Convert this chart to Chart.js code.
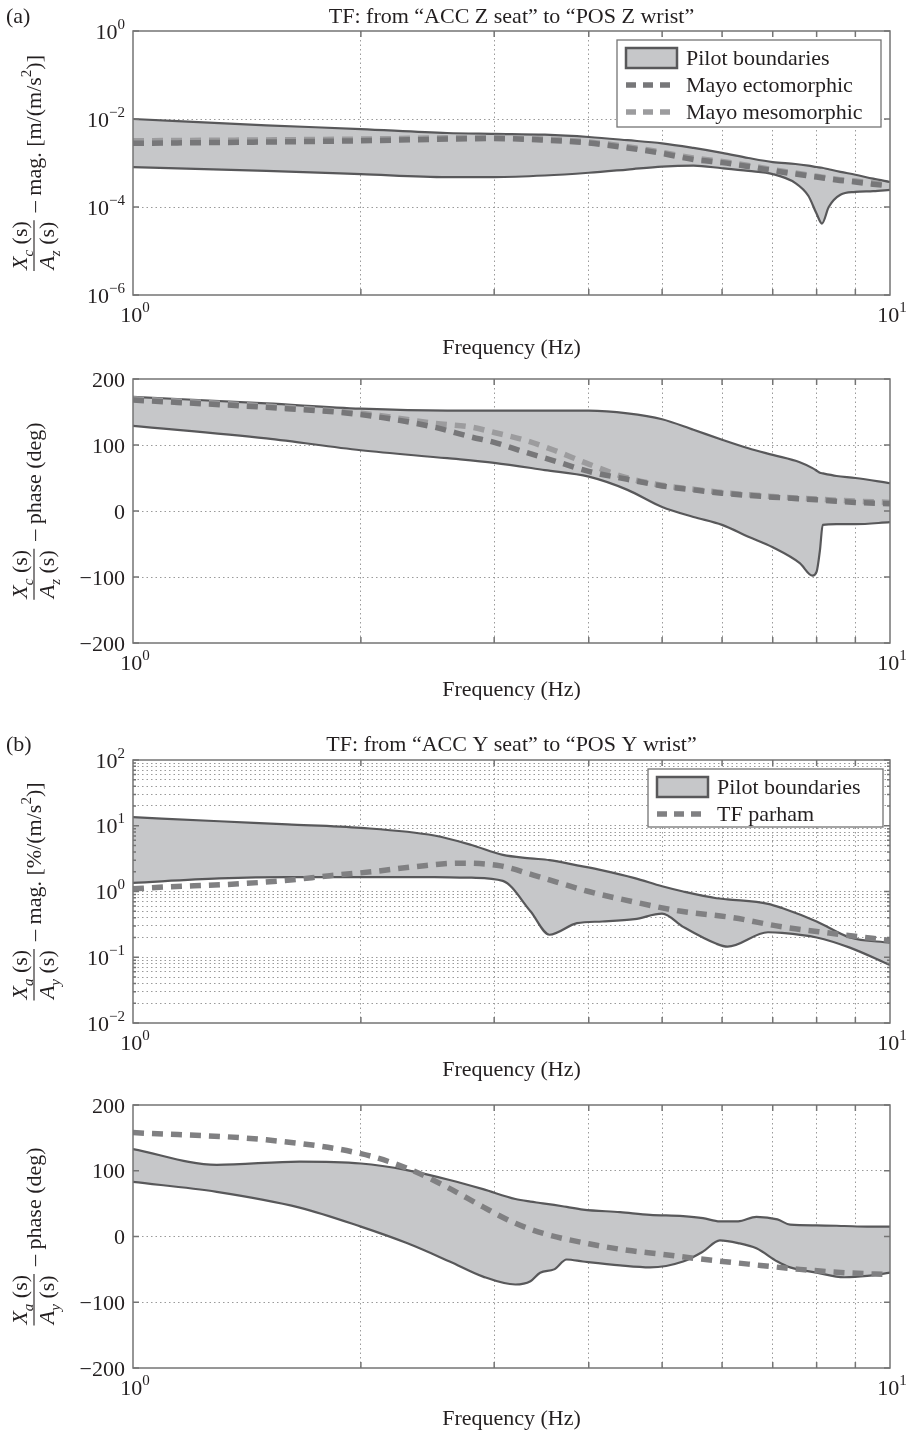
<!DOCTYPE html>
<html>
<head>
<meta charset="utf-8">
<script src="https://cdn.jsdelivr.net/npm/chart.js@4.4.1/dist/chart.umd.min.js"></script>
<style>
  body { margin: 0; background: #fff; }
  #wrap { position: relative; width: 907px; height: 1433px; }
  canvas { position: absolute; left: 0; }
</style>
</head>
<body>
<div id="wrap">
  <canvas id="magZ" width="907" height="360" style="top:0px"></canvas>
  <canvas id="phaseZ" width="907" height="340" style="top:360px"></canvas>
  <canvas id="magY" width="907" height="385" style="top:700px"></canvas>
  <canvas id="phaseY" width="907" height="348" style="top:1085px"></canvas>
</div>
<script>
// (a) vertical: seat ACC Z -> wrist POS Z, magnitude [m/(m/s^2)]
const zMagFreq  = [1, 1.5, 2, 2.6, 3, 3.5, 4, 4.5, 5, 5.5, 6, 6.5, 7, 7.5, 7.8, 8.0, 8.13, 8.3, 8.6, 9, 9.5, 10];
const zMagUpper = [1.0e-2, 7.2e-3, 5.9e-3, 4.8e-3, 4.6e-3, 4.4e-3, 3.9e-3, 3.3e-3, 2.8e-3, 2.2e-3, 1.7e-3,
                   1.3e-3, 1.05e-3, 9.5e-4, 8.7e-4, 8.1e-4, 7.8e-4, 7.2e-4, 6.3e-4, 5.4e-4, 4.4e-4, 3.7e-4];
const zMagLower = [8.1e-4, 6.6e-4, 5.6e-4, 4.8e-4, 4.8e-4, 5.2e-4, 6.0e-4, 7.1e-4, 8.3e-4, 8.7e-4, 7.6e-4,
                   6.6e-4, 5.6e-4, 3.5e-4, 1.8e-4, 7.0e-5, 4.2e-5, 1.0e-4, 1.9e-4, 2.2e-4, 2.3e-4, 2.45e-4];
const zMayoFreq = [1, 1.5, 2, 2.5, 3, 3.5, 4, 4.5, 5, 5.5, 6, 6.5, 7, 7.5, 8, 8.5, 9, 9.5, 10];
const zMagEcto  = [2.8e-3, 3.0e-3, 3.2e-3, 3.45e-3, 3.6e-3, 3.3e-3, 2.85e-3, 2.2e-3, 1.65e-3, 1.2e-3, 1.02e-3,
                   8.3e-4, 6.7e-4, 5.6e-4, 4.8e-4, 4.1e-4, 3.7e-4, 3.3e-4, 3.0e-4];
const zMagMeso  = [3.2e-3, 3.35e-3, 3.5e-3, 3.7e-3, 3.8e-3, 3.5e-3, 3.0e-3, 2.35e-3, 1.75e-3, 1.3e-3, 1.08e-3,
                   8.8e-4, 7.1e-4, 5.9e-4, 5.0e-4, 4.3e-4, 3.9e-4, 3.5e-4, 3.2e-4];

// (a) phase [deg]
const zPhFreq  = [1, 1.5, 2, 2.6, 3, 3.5, 4, 4.5, 5, 5.5, 6, 6.5, 7, 7.6, 7.9, 8.0, 8.08, 8.15, 8.5, 9, 10];
const zPhUpper = [173, 163, 155, 152, 152, 152, 152, 148, 139, 123, 108, 95, 85, 74, 65, 61, 58, 57, 53, 50, 42];
const zPhLower = [129, 110, 92, 80, 73, 62, 52, 32, 6, -9, -21, -39, -55, -79, -98, -92, -60, -21, -20, -20, -17];
const zPhMayoFreq = [1, 1.5, 2, 2.5, 2.8, 3.0, 3.3, 3.6, 4.0, 4.5, 5, 5.5, 6, 7, 8, 9, 10];
const zPhEcto  = [168, 157, 146, 127, 112, 104, 89, 76, 60, 48, 38, 32, 27, 21, 17, 13, 11];
const zPhMeso  = [170, 159, 148, 133, 127, 119, 107, 92, 71, 50, 39, 33, 28, 22, 18, 15, 13];

// (b) lateral: seat ACC Y -> wrist POS Y, magnitude [%/(m/s^2)]
const yMagFreq  = [1, 1.3, 1.6, 2, 2.5, 2.8, 3.08, 3.35, 3.55, 3.86, 4.17, 4.6, 5.0, 5.33, 5.9, 6.1, 6.9, 7.2, 8.0, 8.85, 10];
const yMagUpper = [13.5, 11.7, 10.5, 9.3, 7.1, 5.1, 3.6, 3.2, 3.0, 2.5, 2.1, 1.6, 1.2, 1.0, 0.79, 0.76, 0.65, 0.56, 0.35, 0.20, 0.166];
const yMagLower = [1.35, 1.58, 1.66, 1.66, 1.66, 1.62, 1.45, 0.50, 0.22, 0.33, 0.35, 0.38, 0.46, 0.29, 0.16, 0.145, 0.24, 0.235, 0.20, 0.14, 0.076];
const yParhamFreq = [1, 1.1, 1.35, 1.6, 1.82, 2.07, 2.37, 2.7, 3.06, 3.38, 4, 4.6, 5.3, 6.2, 7.2, 8.4, 10];
const yMagParham  = [1.10, 1.17, 1.29, 1.48, 1.74, 2.0, 2.4, 2.7, 2.45, 1.78, 1.0, 0.69, 0.50, 0.40, 0.29, 0.23, 0.18];

// (b) phase [deg]
const yPhFreq  = [1, 1.29, 1.66, 2, 2.3, 2.62, 2.9, 3.2, 3.35, 3.45, 3.6, 3.74, 3.93, 4.4, 4.82, 5.33, 5.66, 5.96, 6.3, 6.66, 7.1, 7.38, 8.0, 8.7, 9.33, 10];
const yPhUpper = [133, 109, 114, 111, 101, 86, 72, 57, 53, 51, 48, 45, 41, 37, 33, 31, 28, 23, 23, 30, 26, 18, 17, 16, 15, 15];
const yPhLower = [83, 68, 44, 15, -10, -38, -61, -73, -68, -55, -50, -35, -38, -44, -47, -38, -23, -6, -10, -18, -38, -47, -55, -62, -60, -55];
const yPhParhamFreq = [1, 1.5, 2, 2.3, 2.6, 2.9, 3.2, 3.5, 4, 4.5, 5, 5.5, 6.5, 7.6, 8.7, 10];
const yPhParham     = [158, 147, 126, 104, 75, 45, 20, 4, -11, -21, -27, -33, -42, -50, -55, -58];

// axes: grid positions and labelled ticks
const freqGrid     = [2, 3, 4, 5, 6, 7, 8, 9];
const freqLabelHz  = [1, 10];
const freqLabelExp = ['0', '1'];
const zMagGrid     = [1e-4, 1e-2];
const zMagTickVals = [1e-6, 1e-4, 1e-2, 1];
const zMagTickExp  = ['\u22126', '\u22124', '\u22122', '0'];
const yMagDecades  = [0.01, 0.1, 1, 10];
const mantissas    = [1, 2, 3, 4, 5, 6, 7, 8, 9];
const yMagTickVals = [0.01, 0.1, 1, 10, 100];
const yMagTickExp  = ['\u22122', '\u22121', '0', '1', '2'];
const phaseGrid    = [-100, 0, 100];
const phaseTicks   = [-200, -100, 0, 100, 200];

const SERIF = '"Liberation Serif", "DejaVu Serif", serif';
const FS = 22, FS_SMALL = 15;
const INK = '#231f20';
const EDGE = '#58585a';
const BAND = '#c6c7c9';
const AXIS = '#747474';
const GRID = '#9a9a9a';

const pts = (xs, ys) => xs.map((x, i) => ({ x, y: ys[i] }));

const bandLine = (xs, ys, fill) => ({
  label: 'Pilot boundaries', data: pts(xs, ys), borderColor: EDGE, borderWidth: 2.2,
  backgroundColor: BAND, fill: fill, pointRadius: 0, cubicInterpolationMode: 'monotone'
});
const dashLine = (label, xs, ys, color) => ({
  label, data: pts(xs, ys), borderColor: color, borderWidth: 5.5, borderDash: [11, 8],
  fill: false, pointRadius: 0, cubicInterpolationMode: 'monotone'
});

// rich text runs: {t, it, sub, sup}
function runFont(r) {
  return (r.it ? 'italic ' : '') + ((r.sub || r.sup) ? FS_SMALL : FS) + 'px ' + SERIF;
}
function runsWidth(ctx, runs) {
  return runs.reduce((w, r) => { ctx.font = runFont(r); return w + ctx.measureText(r.t).width; }, 0);
}
function drawRuns(ctx, runs, x, y) {
  runs.forEach(r => {
    ctx.font = runFont(r);
    ctx.fillText(r.t, x, y + (r.sub ? 6 : r.sup ? -10 : 0));
    x += ctx.measureText(r.t).width;
  });
}
const pow10 = e => [{ t: '10' }, { t: e, sup: true }];
const isDecade = v => Math.abs(Math.log10(v) - Math.round(Math.log10(v))) < 1e-6;

const bodeDeco = {
  id: 'bode',
  afterDraw(chart, args, o) {
    const { ctx, chartArea: a, scales: { x, y } } = chart;
    const midX = (a.left + a.right) / 2;
    ctx.save();
    ctx.setLineDash([]);

    // axes box and inward ticks
    ctx.strokeStyle = AXIS;
    ctx.lineWidth = 1.5;
    ctx.strokeRect(a.left, a.top, a.right - a.left, a.bottom - a.top);
    ctx.beginPath();
    x.ticks.forEach(t => {
      const px = x.getPixelForValue(t.value);
      ctx.moveTo(px, a.bottom); ctx.lineTo(px, a.bottom - 6);
      ctx.moveTo(px, a.top); ctx.lineTo(px, a.top + 6);
    });
    y.ticks.concat(o.yTicks.map(v => ({ value: v }))).forEach(t => {
      const py = y.getPixelForValue(t.value);
      const len = (o.logY && !isDecade(t.value)) ? 3 : 6;
      ctx.moveTo(a.left, py); ctx.lineTo(a.left + len, py);
      ctx.moveTo(a.right, py); ctx.lineTo(a.right - len, py);
    });
    ctx.stroke();

    ctx.fillStyle = INK;
    ctx.textBaseline = 'alphabetic';

    // y tick labels
    o.yTicks.forEach((v, i) => {
      const runs = o.yTickRuns[i];
      const w = runsWidth(ctx, runs);
      drawRuns(ctx, runs, a.left - 8 - w, y.getPixelForValue(v) + 7.5);
    });
    // x tick labels
    freqLabelHz.forEach((v, i) => {
      const runs = pow10(freqLabelExp[i]);
      const w = runsWidth(ctx, runs);
      drawRuns(ctx, runs, x.getPixelForValue(v) - w / 2 + 2, a.bottom + 27);
    });

    // x axis title, panel title and tag
    ctx.font = FS + 'px ' + SERIF;
    ctx.textAlign = 'center';
    ctx.fillText('Frequency (Hz)', midX, o.xTitleY);
    if (o.title) ctx.fillText(o.title, midX, o.titleY);
    ctx.textAlign = 'left';
    if (o.tag) ctx.fillText(o.tag, 6, o.titleY);

    // rotated y axis title: fraction followed by the quantity
    const lab = o.yTitle;
    const numW = runsWidth(ctx, lab.num), denW = runsWidth(ctx, lab.den);
    const fracW = Math.max(numW, denW) + 2;
    const tailW = runsWidth(ctx, lab.tail);
    const gap = 8;
    const total = fracW + gap + tailW;
    ctx.save();
    ctx.translate(34, (a.top + a.bottom) / 2);
    ctx.rotate(-Math.PI / 2);
    const x0 = -total / 2;
    ctx.strokeStyle = INK;
    ctx.lineWidth = 1.1;
    ctx.beginPath(); ctx.moveTo(x0, 0); ctx.lineTo(x0 + fracW, 0); ctx.stroke();
    drawRuns(ctx, lab.num, x0 + (fracW - numW) / 2, -7);
    drawRuns(ctx, lab.den, x0 + (fracW - denW) / 2, 20);
    drawRuns(ctx, lab.tail, x0 + fracW + gap, 7);
    ctx.restore();

    // legend box
    if (o.legend) {
      const L = o.legend, ds = chart.data.datasets;
      ctx.fillStyle = '#fff';
      ctx.fillRect(L.left, L.top, L.width, L.height);
      ctx.strokeStyle = AXIS;
      ctx.lineWidth = 1.3;
      ctx.strokeRect(L.left, L.top, L.width, L.height);
      L.items.forEach((idx, k) => {
        const d = ds[idx];
        const cy = L.top + 18 + k * 27;
        const px = L.left + 9;
        if (d.fill) {
          ctx.fillStyle = d.backgroundColor;
          ctx.fillRect(px, cy - 10, 51, 20);
          ctx.strokeStyle = d.borderColor;
          ctx.lineWidth = 2.5;
          ctx.strokeRect(px, cy - 10, 51, 20);
        } else {
          ctx.strokeStyle = d.borderColor;
          ctx.lineWidth = d.borderWidth;
          ctx.setLineDash([10, 7]);
          ctx.beginPath(); ctx.moveTo(px, cy); ctx.lineTo(px + 51, cy); ctx.stroke();
          ctx.setLineDash([]);
        }
        ctx.fillStyle = INK;
        ctx.font = FS + 'px ' + SERIF;
        ctx.fillText(d.label, L.left + 69, cy + 7);
      });
    }
    ctx.restore();
  }
};

function makePanel(id, datasets, yScale, padTop, padBottom, deco) {
  return new Chart(document.getElementById(id), {
    type: 'line',
    data: { datasets },
    options: {
      responsive: false,
      animation: false,
      events: [],
      layout: { padding: { left: 133, right: 17, top: padTop, bottom: padBottom } },
      plugins: {
        legend: { display: false },
        tooltip: { enabled: false },
        filler: { drawTime: 'beforeDatasetsDraw' },
        bode: deco
      },
      scales: {
        x: {
          type: 'logarithmic', min: 1, max: 10,
          afterBuildTicks: s => { s.ticks = freqGrid.map(v => ({ value: v })); },
          ticks: { display: false },
          grid: { color: GRID, lineWidth: 1, drawTicks: false },
          border: { display: false, dash: [1.5, 3] }
        },
        y: Object.assign({
          ticks: { display: false },
          grid: { color: GRID, lineWidth: 1, drawTicks: false },
          border: { display: false, dash: [1.5, 3] }
        }, yScale)
      }
    },
    plugins: [bodeDeco]
  });
}

const logAxis = (min, max, grid) => ({
  type: 'logarithmic', min, max,
  afterBuildTicks: s => { s.ticks = grid.map(v => ({ value: v })); }
});
const phaseAxis = {
  type: 'linear', min: -200, max: 200,
  afterBuildTicks: s => { s.ticks = phaseGrid.map(v => ({ value: v })); }
};
const phaseRuns = phaseTicks.map(v => [{ t: v < 0 ? '\u2212' + (-v) : String(v) }]);

const fracZ = {
  num: [{ t: 'X', it: true }, { t: 'c', it: true, sub: true }, { t: ' (s)' }],
  den: [{ t: 'A', it: true }, { t: 'z', it: true, sub: true }, { t: ' (s)' }]
};
const fracY = {
  num: [{ t: 'X', it: true }, { t: 'a', it: true, sub: true }, { t: ' (s)' }],
  den: [{ t: 'A', it: true }, { t: 'y', it: true, sub: true }, { t: ' (s)' }]
};

// (a) magnitude
makePanel('magZ', [
  dashLine('Mayo ectomorphic', zMayoFreq, zMagEcto, '#777779'),
  dashLine('Mayo mesomorphic', zMayoFreq, zMagMeso, '#9c9c9e'),
  bandLine(zMagFreq, zMagUpper, '+1'),
  bandLine(zMagFreq, zMagLower, false)
], logAxis(1e-6, 1, zMagGrid), 31, 65, {
  tag: '(a)', title: 'TF: from \u201cACC Z seat\u201d to \u201cPOS Z wrist\u201d', titleY: 23, xTitleY: 354,
  yTicks: zMagTickVals, yTickRuns: zMagTickExp.map(pow10), logY: true,
  yTitle: { num: fracZ.num, den: fracZ.den, tail: [{ t: '\u2013 mag. [m/(m/s' }, { t: '2', sup: true }, { t: ')]' }] },
  legend: { left: 617, top: 40, width: 264, height: 87, items: [2, 0, 1] }
});

// (a) phase
makePanel('phaseZ', [
  dashLine('Mayo ectomorphic', zPhMayoFreq, zPhEcto, '#777779'),
  dashLine('Mayo mesomorphic', zPhMayoFreq, zPhMeso, '#9c9c9e'),
  bandLine(zPhFreq, zPhUpper, '+1'),
  bandLine(zPhFreq, zPhLower, false)
], phaseAxis, 19, 57, {
  xTitleY: 336, yTicks: phaseTicks, yTickRuns: phaseRuns,
  yTitle: { num: fracZ.num, den: fracZ.den, tail: [{ t: '\u2013 phase (deg)' }] }
});

// (b) magnitude
makePanel('magY', [
  dashLine('TF parham', yParhamFreq, yMagParham, '#808082'),
  bandLine(yMagFreq, yMagUpper, '+1'),
  bandLine(yMagFreq, yMagLower, false)
], logAxis(0.01, 100, yMagDecades.flatMap(d => mantissas.map(m => m * d)).filter(v => v > 0.011 && v < 99)), 60, 62, {
  tag: '(b)', title: 'TF: from \u201cACC Y seat\u201d to \u201cPOS Y wrist\u201d', titleY: 51, xTitleY: 376,
  yTicks: yMagTickVals, yTickRuns: yMagTickExp.map(pow10), logY: true,
  yTitle: { num: fracY.num, den: fracY.den, tail: [{ t: '\u2013 mag. [%/(m/s' }, { t: '2', sup: true }, { t: ')]' }] },
  legend: { left: 648, top: 69, width: 235, height: 58, items: [1, 0] }
});

// (b) phase
makePanel('phaseY', [
  dashLine('TF parham', yPhParhamFreq, yPhParham, '#808082'),
  bandLine(yPhFreq, yPhUpper, '+1'),
  bandLine(yPhFreq, yPhLower, false)
], phaseAxis, 20, 65, {
  xTitleY: 340, yTicks: phaseTicks, yTickRuns: phaseRuns,
  yTitle: { num: fracY.num, den: fracY.den, tail: [{ t: '\u2013 phase (deg)' }] }
});
</script>
</body>
</html>
